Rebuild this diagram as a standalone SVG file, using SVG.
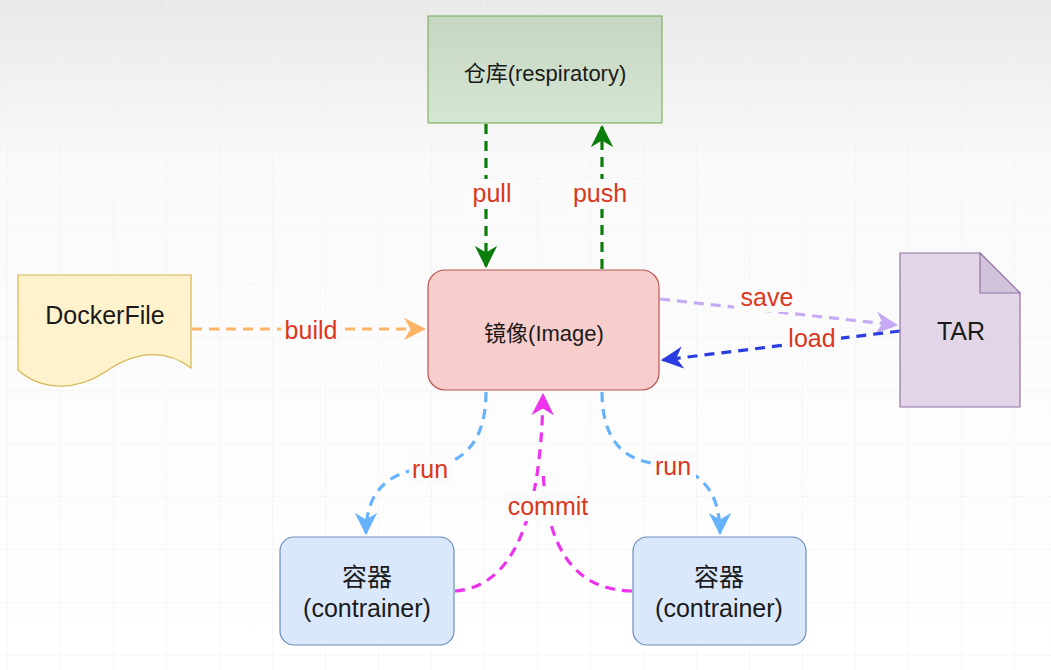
<svg xmlns="http://www.w3.org/2000/svg" width="1051" height="670" viewBox="0 0 1051 670">
<defs>
<linearGradient id="bg" x1="0" y1="0" x2="0" y2="1">
<stop offset="0" stop-color="#e9e9e9"/>
<stop offset="0.25" stop-color="#fafafa"/>
<stop offset="1" stop-color="#ffffff"/>
</linearGradient>
<linearGradient id="repo" x1="0" y1="0" x2="0" y2="1">
<stop offset="0" stop-color="#c6d6c3"/>
<stop offset="1" stop-color="#d5e6d2"/>
</linearGradient>
<pattern id="grid" width="53" height="53" patternUnits="userSpaceOnUse" x="8" y="20">
<path d="M53 0 V53 M0 53 H53" fill="none" stroke="#f0f0f0" stroke-width="1"/>
</pattern>
<marker id="aGreen" viewBox="0 0 10 10" refX="9" refY="5" markerWidth="7" markerHeight="7" markerUnits="strokeWidth" orient="auto"><path d="M0,0 L10,5 L0,10 L3,5 z" fill="#0a7d0a"/></marker>
<marker id="aOrange" viewBox="0 0 10 10" refX="9" refY="5" markerWidth="7" markerHeight="7" markerUnits="strokeWidth" orient="auto"><path d="M0,0 L10,5 L0,10 L3,5 z" fill="#ffb366"/></marker>
<marker id="aLav" viewBox="0 0 10 10" refX="9" refY="5" markerWidth="7" markerHeight="7" markerUnits="strokeWidth" orient="auto"><path d="M0,0 L10,5 L0,10 L3,5 z" fill="#c6aaf5"/></marker>
<marker id="aBlue" viewBox="0 0 10 10" refX="9" refY="5" markerWidth="7" markerHeight="7" markerUnits="strokeWidth" orient="auto"><path d="M0,0 L10,5 L0,10 L3,5 z" fill="#2b3de0"/></marker>
<marker id="aSky" viewBox="0 0 10 10" refX="9" refY="5" markerWidth="7" markerHeight="7" markerUnits="strokeWidth" orient="auto"><path d="M0,0 L10,5 L0,10 L3,5 z" fill="#66b2ff"/></marker>
<marker id="aMag" viewBox="0 0 10 10" refX="9" refY="5" markerWidth="7" markerHeight="7" markerUnits="strokeWidth" orient="auto"><path d="M0,0 L10,5 L0,10 L3,5 z" fill="#ee33ee"/></marker>
</defs>
<style>
.t{font-family:"Liberation Sans","Noto Sans CJK SC",Arial,sans-serif;fill:#1a1a1a;text-anchor:middle;dominant-baseline:central}
.lbl{font-family:"Liberation Sans",Arial,sans-serif;fill:#d9381e;font-size:25px;text-anchor:middle;dominant-baseline:central}
.c{fill:none;stroke-width:3.2;stroke-dasharray:10 7}
.lb{fill:#fbfbfb}
</style>
<rect width="1051" height="670" fill="url(#bg)"/>
<rect width="1051" height="670" fill="url(#grid)"/>

<g id="connectors">
<path class="c" d="M486 124 V266" stroke="#0a7d0a" marker-end="url(#aGreen)"/>
<path class="c" d="M602 269 V127" stroke="#0a7d0a" marker-end="url(#aGreen)"/>
<path class="c" d="M192 329 H424" stroke="#ffb366" marker-end="url(#aOrange)"/>
<path class="c" d="M660 299 L896 325" stroke="#c6aaf5" marker-end="url(#aLav)"/>
<path class="c" d="M900 331 L663 360" stroke="#2b3de0" marker-end="url(#aBlue)"/>
<path class="c" d="M486 392 Q486 462 426 468 Q366 474 366 533" stroke="#66b2ff" marker-end="url(#aSky)"/>
<path class="c" d="M602 392 Q602 460 660 464 Q720 470 720 533" stroke="#66b2ff" marker-end="url(#aSky)"/>
<path class="c" d="M455 591 Q540 585 543 395" stroke="#ee33ee" marker-end="url(#aMag)"/>
<path class="c" d="M632 591 Q548 590 543 470" stroke="#ee33ee"/>
<rect class="lb" x="468" y="179" width="48" height="30"/>
<rect class="lb" x="569" y="179" width="64" height="30"/>
<rect class="lb" x="281" y="316" width="60" height="30"/>
<rect class="lb" x="734" y="284" width="66" height="28"/>
<rect class="lb" x="783" y="324" width="58" height="30"/>
<rect class="lb" x="409" y="455" width="44" height="28"/>
<rect class="lb" x="652" y="452" width="44" height="28"/>
<rect class="lb" x="502" y="491" width="92" height="30"/>
<text class="lbl" x="492" y="193">pull</text>
<text class="lbl" x="600" y="193">push</text>
<text class="lbl" x="311" y="330">build</text>
<text class="lbl" x="767" y="297">save</text>
<text class="lbl" x="812" y="338">load</text>
<text class="lbl" x="430" y="469">run</text>
<text class="lbl" x="673" y="466">run</text>
<text class="lbl" x="548" y="506">commit</text>
</g>

<g id="repository">
<rect x="428" y="16" width="234" height="107" fill="url(#repo)" stroke="#82b366" stroke-width="1.2"/>
<text class="t" x="545" y="73" font-size="22">仓库(respiratory)</text>
</g>

<g id="dockerfile">
<path d="M18 275 H191 V368 C160 345 130 355 105 372 C75 392 40 390 18 370 Z" fill="#fff2cc" stroke="#d6b656" stroke-width="1.2"/>
<text class="t" x="105" y="315" font-size="25">DockerFile</text>
</g>

<g id="image">
<rect x="428" y="270" width="231" height="120" rx="17" fill="#f8cecc" stroke="#b85450" stroke-width="1.2"/>
<text class="t" x="544" y="333" font-size="22">镜像(Image)</text>
</g>

<g id="tar">
<path d="M900 253 H980 L1020 293 V407 H900 Z" fill="#e1d5e7" stroke="#9673a6" stroke-width="1.2"/>
<path d="M980 253 V293 H1020 Z" fill="#d0c4da" stroke="#9673a6" stroke-width="1.2"/>
<text class="t" x="961" y="331" font-size="25">TAR</text>
</g>

<g id="container1">
<rect x="280" y="537" width="174" height="108" rx="14" fill="#dae8fc" stroke="#6c8ebf" stroke-width="1.2"/>
<text class="t" x="367" y="577" font-size="25">容器</text>
<text class="t" x="367" y="608" font-size="25">(contrainer)</text>
</g>

<g id="container2">
<rect x="633" y="537" width="173" height="108" rx="14" fill="#dae8fc" stroke="#6c8ebf" stroke-width="1.2"/>
<text class="t" x="719" y="577" font-size="25">容器</text>
<text class="t" x="719" y="608" font-size="25">(contrainer)</text>
</g>
</svg>
